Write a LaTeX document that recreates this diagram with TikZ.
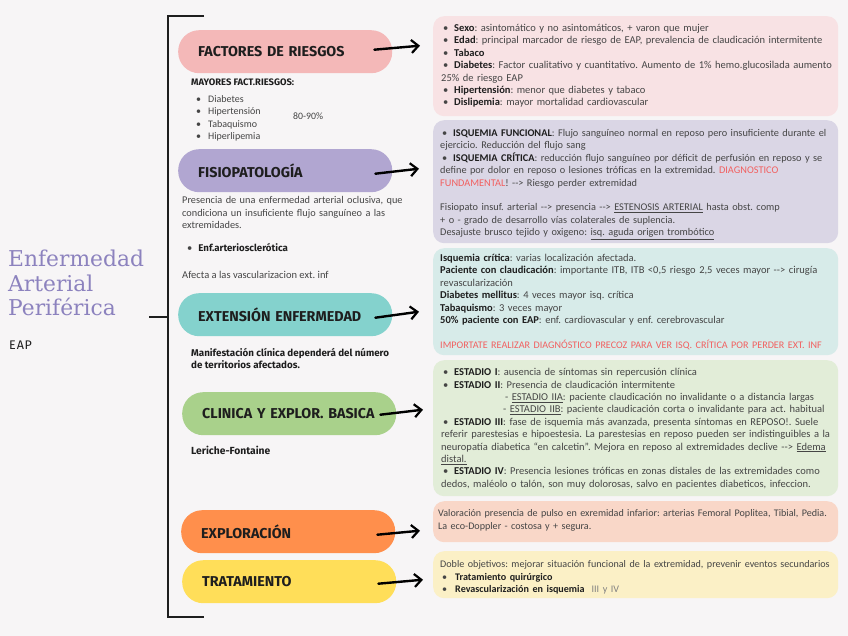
\documentclass[tikz,border=0pt]{standalone}
\usepackage{fontspec}
\usetikzlibrary{arrows.meta}
\setmainfont{Carlito}
\newfontfamily\pillfont{Fira Sans}
\newfontfamily\titlefont{DejaVu Serif}
\definecolor{bg}{HTML}{F7F5F6}
\definecolor{txt}{HTML}{454545}
\definecolor{dark}{HTML}{1E1E1E}
\definecolor{redt}{HTML}{F25F5F}
\definecolor{titlec}{HTML}{8C82BE}
\definecolor{pinkP}{HTML}{F4B8B8}
\definecolor{purpleP}{HTML}{B1A6D1}
\definecolor{tealP}{HTML}{84D2CD}
\definecolor{greenP}{HTML}{A9D18B}
\definecolor{orangeP}{HTML}{FF8F4C}
\definecolor{yellowP}{HTML}{FFDE59}
\definecolor{pinkB}{HTML}{F8E2E4}
\definecolor{purpleB}{HTML}{DAD6E5}
\definecolor{tealB}{HTML}{D7EBE9}
\definecolor{greenB}{HTML}{E2EDD8}
\definecolor{peachB}{HTML}{F9D7C8}
\definecolor{yellowB}{HTML}{FBF0C6}
\newcommand\bi[1]{\par\hangindent=13pt\hangafter=1\noindent\hbox to 13pt{\hskip2pt\textbullet\hfil}#1}
\newcommand\np[1]{\par\noindent #1}
\newcommand\B[1]{\textbf{\color{dark}#1}}
\newcommand\arw{-{}->}
\newcommand\fs[1]{\fontsize{#1}{12.4}\selectfont}
\tikzset{
  pill/.style={rounded corners=21pt, minimum width=214pt, minimum height=43pt, anchor=north west,
    text width=174pt, inner xsep=20pt, inner ysep=0pt, align=left, text=dark,
    font=\pillfont\bfseries\fontsize{14.3}{16}\selectfont},
  infobox/.style={rounded corners=11pt, minimum width=405pt, anchor=north west, inner sep=0pt},
  txtnode/.style={anchor=north west, inner sep=0pt, align=left, text=txt,
    font=\frenchspacing\fontsize{10.5}{12.4}\selectfont},
  boldnote/.style={anchor=north west, inner sep=0pt, align=left, text=dark,
    font=\pillfont\bfseries\fontsize{9.8}{12.2}\selectfont},
  arr/.style={line width=2.4pt, line cap=round, -{Straight Barb[length=7pt,width=13pt,line width=2.2pt]}},
  bracket/.style={line width=1.8pt, draw=dark}
}
\begin{document}
\begin{tikzpicture}[x=1pt,y=-1pt]
\fill[bg] (0,0) rectangle (848,636);
\useasboundingbox (0,0) rectangle (848,636);

% bracket
\coordinate (bt) at (204,16);
\coordinate (btl) at (168,16);
\coordinate (bbl) at (168,617);
\coordinate (bb) at (204,617);
\coordinate (bm) at (168,317);
\coordinate (bml) at (149,317);
\draw[bracket] (bt) -- (btl) -- (bbl) -- (bb);
\draw[bracket] (bml) -- (bm);

% title
\node[anchor=north west, inner sep=0pt, align=left, text=titlec, font=\titlefont\fontsize{21.8}{24.5}\selectfont] (title) at (8,250) {Enfermedad\\Arterial\\Periférica};
\node[anchor=west, inner sep=0pt, text=dark, font=\pillfont\fontsize{12.5}{14}\selectfont] (eap) at (9,345) {E\kern1pt A\kern0.5pt P};

% pills
\node[pill, fill=pinkP] (p1) at (178,30) {\mbox{FACTORES DE RIESGOS}};
\node[pill, fill=purpleP] (p2) at (178,149) {\mbox{FISIOPATOLOGÍA}};
\node[pill, fill=tealP] (p3) at (178,293) {\mbox{EXTENSIÓN ENFERMEDAD}};
\node[pill, fill=greenP] (p4) at (182,392) {\mbox{CLINICA Y EXPLOR. BASICA}};
\node[pill, fill=orangeP] (p5) at (181,510) {\mbox{EXPLORACIÓN}};
\node[pill, fill=yellowP] (p6) at (182,560) {\mbox{TRATAMIENTO}};

% left notes
\node[boldnote, font=\pillfont\bfseries\fontsize{9.4}{10}\selectfont] (n0) at (191,79) {MAYORES FACT.RIESGOS:};
\node[txtnode, text width=200pt, font=\frenchspacing\fontsize{10}{12.4}\selectfont] (n1) at (191,90) {%
\np{\hskip5pt\textbullet\hskip7pt Diabetes}
\np{\hskip5pt\textbullet\hskip7pt Hipertensión}
\np{\hskip5pt\textbullet\hskip7pt Tabaquismo}
\np{\hskip5pt\textbullet\hskip7pt Hiperlipemia}};
\node[txtnode, font=\fontsize{9.8}{12}\selectfont] (n1b) at (293,113) {80-90\%};
\node[txtnode, text width=240pt, font=\frenchspacing\fontsize{10.3}{12.5}\selectfont] (n2) at (182,191) {%
\np{Presencia de una enfermedad arterial oclusiva, que\\condiciona un insuficiente flujo sanguíneo a las\\extremidades.}};
\node[txtnode] (n3) at (187,243) {\textbullet\hskip6pt{\pillfont\bfseries\color{dark}\fontsize{9.7}{10}\selectfont Enf.arteriosclerótica}};
\node[txtnode] (n4) at (182,271) {Afecta a las vascularizacion ext. inf};
\node[boldnote] (n5) at (191,348) {Manifestación clínica dependerá del número\\de territorios afectados.};
\node[boldnote, font=\pillfont\bfseries\fontsize{10.3}{12}\selectfont] (n6) at (191,446) {Leriche-Fontaine};

% info boxes
\node[infobox, fill=pinkB, minimum height=100pt] (b1) at (433,16) {};
\node[infobox, fill=purpleB, minimum height=123pt] (b2) at (433,120) {};
\node[infobox, fill=tealB, minimum height=107pt] (b3) at (433,248) {};
\node[infobox, fill=greenB, minimum height=136pt] (b4) at (433,360) {};
\node[infobox, fill=peachB, minimum height=41pt] (b5) at (433,501) {};
\node[infobox, fill=yellowB, minimum height=47pt] (b6) at (433,551) {};

% box texts
\node[txtnode, text width=430pt] (t1) at (441,19) {%
\bi{\B{Sexo}: asintomático y no asintomáticos, + varon que mujer}
\bi{\B{Edad}: principal marcador de riesgo de EAP, prevalencia de claudicación intermitente}
\bi{\B{Tabaco}}
\bi{\B{Diabetes}: Factor cualitativo y cuantitativo. Aumento de 1\% hemo.glucosilada aumento\\25\% de riesgo EAP}
\bi{\B{Hipertensión}: menor que diabetes y tabaco}
\bi{\B{Dislipemia}: mayor mortalidad cardiovascular}};

\node[txtnode, text width=430pt, font=\frenchspacing\fontsize{10.3}{12.4}\selectfont] (t2) at (440,124) {%
\bi{\B{ISQUEMIA FUNCIONAL}: Flujo sanguíneo normal en reposo pero insuficiente durante el\\ejercicio. Reducción del flujo sang}
\bi{\B{ISQUEMIA CRÍTICA}: reducción flujo sanguíneo por déficit de perfusión en reposo y se\\define por dolor en reposo o lesiones tróficas en la extremidad. {\color{redt}DIAGNOSTICO}\\{\color{redt}FUNDAMENTAL}! \arw{} Riesgo perder extremidad}
\np{\strut}
\np{Fisiopato insuf. arterial \arw{} presencia \arw{} \underline{ESTENOSIS ARTERIAL} hasta obst. comp}
\np{+ o - grado de desarrollo vías colaterales de suplencia.}
\np{Desajuste brusco tejido y oxigeno: \underline{isq. aguda origen trombótico}}};

\node[txtnode, text width=430pt] (t3) at (440,249) {%
\np{\B{Isquemia crítica}: varias localización afectada.}
\np{\B{Paciente con claudicación}: importante ITB, ITB <0,5 riesgo 2,5 veces mayor \arw{} cirugía\\revascularización}
\np{\B{Diabetes mellitus}: 4 veces mayor isq. crítica}
\np{\B{Tabaquismo}: 3 veces mayor}
\np{\B{50\% paciente con EAP}: enf. cardiovascular y enf. cerebrovascular}
\np{\strut}
\np{\color{redt}\fs{10.1}IMPORTATE REALIZAR DIAGNÓSTICO PRECOZ PARA VER ISQ. CRÍTICA POR PERDER EXT. INF}};

\node[txtnode, text width=430pt] (t4) at (441,363) {%
\bi{\B{ESTADIO I}: ausencia de síntomas sin repercusión clínica}
\bi{\B{ESTADIO II}: Presencia de claudicación intermitente}
\np{\hskip64pt - \underline{ESTADIO IIA}: paciente claudicación no invalidante o a distancia largas}
\np{\hskip62pt - \underline{ESTADIO IIB}: paciente claudicación corta o invalidante para act. habitual}
\bi{\B{ESTADIO III}: fase de isquemia más avanzada, presenta síntomas en REPOSO!. Suele\\referir parestesias e hipoestesia. La parestesias en reposo pueden ser indistinguibles a la\\neuropatía diabetica “en calcetin”. Mejora en reposo al extremidades declive \arw{} \underline{Edema}\\\underline{distal.}}
\bi{\B{ESTADIO IV}: Presencia lesiones tróficas en zonas distales de las extremidades como\\dedos, maléolo o talón, son muy dolorosas, salvo en pacientes diabeticos, infeccion.}};

\node[txtnode, text width=430pt, font=\frenchspacing\fontsize{10.1}{12.6}\selectfont] (t5) at (438,504) {%
\np{Valoración presencia de pulso en exremidad infarior: arterias Femoral Poplitea, Tibial, Pedia.}
\np{La eco-Doppler - costosa y + segura.}};

\node[txtnode, text width=430pt] (t6) at (440,555) {%
\np{\fs{10.1}Doble objetivos: mejorar situación funcional de la extremidad, prevenir eventos secundarios}
\bi{\hskip2pt\B{Tratamiento quirúrgico}}
\bi{\hskip2pt\B{Revascularización en isquemia}\ \ {\color{gray}III y IV}}};

% arrows
\draw[arr] ([xshift=-18pt,yshift=2pt]p1.east) -- ([xshift=-13pt,yshift=6pt]b1.west |- p1.east);
\draw[arr] ([xshift=-17pt,yshift=-3pt]p2.east) -- ([xshift=-14pt,yshift=2pt]b2.west |- p2.east);
\draw[arr] ([xshift=-17pt,yshift=-3pt]p3.east) -- ([xshift=-14pt,yshift=3pt]b3.west |- p3.east);
\draw[arr] ([xshift=-16pt,yshift=-1pt]p4.east) -- ([xshift=-10pt,yshift=4pt]b4.west |- p4.east);
\draw[arr] ([xshift=-18pt,yshift=-3pt]p5.east) -- ([xshift=-13pt,yshift=1pt]b5.west |- p5.east);
\draw[arr] ([xshift=-18pt,yshift=-2pt]p6.east) -- ([xshift=-10pt,yshift=2pt]b6.west |- p6.east);
\end{tikzpicture}
\end{document}
